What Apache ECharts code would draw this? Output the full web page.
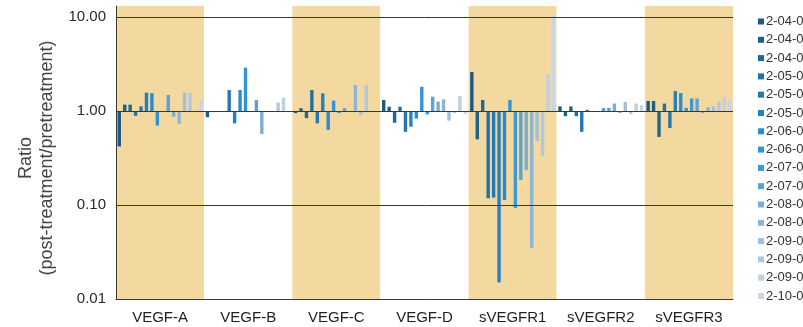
<!DOCTYPE html>
<html>
<head>
<meta charset="utf-8">
<script src="https://cdn.jsdelivr.net/npm/echarts@6/dist/echarts.min.js"></script>
<style>
html,body{margin:0;padding:0;background:#fff;}
#chart{width:803px;height:327px;}
</style>
</head>
<body>
<div id="chart"></div>
<script>
// Categories (biomarkers)
const categories = ['VEGF-A', 'VEGF-B', 'VEGF-C', 'VEGF-D', 'sVEGFR1', 'sVEGFR2', 'sVEGFR3'];

// Patient IDs (legend)
const patients = ['2-04-001', '2-04-002', '2-04-003', '2-05-001', '2-05-002', '2-05-003',
  '2-06-001', '2-06-002', '2-07-001', '2-07-002', '2-08-001', '2-08-002',
  '2-09-001', '2-09-002', '2-09-003', '2-10-001'];

// Ratio (post/pre) per biomarker, one value per patient (null = no bar)
const vegfA   = [0.42, 1.17, 1.17, 0.89, 1.12, 1.57, 1.55, 0.70, null, 1.48, 0.87, 0.73, 1.58, 1.55, null, 1.31];
const vegfB   = [0.86, null, null, null, 1.67, 0.74, 1.67, 2.89, null, 1.31, 0.57, null, null, 1.23, 1.39, null];
const vegfC   = [0.95, 1.07, 0.84, 1.67, 0.74, 1.54, 0.63, 1.29, 0.95, 1.07, null, 1.89, 0.91, 1.89, 0.97, null];
const vegfD   = [1.31, 1.11, 0.75, 1.11, 0.60, 0.68, 0.83, 1.81, 0.92, 1.42, 1.26, 1.33, 0.79, 0.95, 1.44, 0.93];
const sVegfr1 = [2.6, 0.50, 1.31, 0.118, 0.12, 0.015, 0.113, 1.31, 0.093, 0.185, 0.235, 0.035, 0.48, 0.33, 2.5, 10.5];
const sVegfr2 = [1.12, 0.88, 1.12, 0.88, 0.60, 1.03, null, null, 1.07, 1.08, 1.2, 0.95, 1.25, 0.93, 1.2, 1.15];
const sVegfr3 = [1.28, 1.28, 0.53, 1.2, 0.66, 1.63, 1.55, 1.08, 1.36, 1.36, 0.95, 1.1, 1.12, 1.25, 1.4, 1.32];

const yTicks = [0.01, 0.1, 1, 10];

const colors = ['#1c5a80', '#1e6189', '#206792', '#2270a5', '#2478b0', '#2580bd',
  '#2a8ccc', '#2f95d5', '#3a9ad6', '#5aa3d2', '#78aed2', '#8cb6d6',
  '#a0c0dc', '#b1c9e0', '#bfd0e4', '#c9d5e6'];

const byCategory = [vegfA, vegfB, vegfC, vegfD, sVegfr1, sVegfr2, sVegfr3];
const FONT = '"Liberation Sans", Arial, Helvetica, sans-serif';

const series = patients.map((p, i) => ({
  name: p,
  type: 'bar',
  xAxisIndex: 1,
  yAxisIndex: 1,
  barWidth: 3.4,
  barGap: '60%',
  clip: false,
  itemStyle: { color: colors[i] },
  data: byCategory.map(arr => arr[i])
}));

const chart = echarts.init(document.getElementById('chart'), null, { renderer: 'canvas' });
chart.setOption({
  animation: false,
  backgroundColor: '#ffffff',
  textStyle: { fontFamily: FONT },
  grid: [
    { left: 116, right: 70, top: 6, bottom: 28 },
    { left: 116, right: 70, top: 17, bottom: 28 }
  ],
  legend: {
    orient: 'vertical',
    left: 753,
    top: 10,
    itemWidth: 6,
    itemHeight: 6,
    itemGap: 5.3,
    icon: 'rect',
    textStyle: { fontSize: 13, color: '#333', fontFamily: FONT, lineHeight: 13, padding: [0, 0, 0, -3] },
    data: patients
  },
  xAxis: [
    {
      type: 'category', gridIndex: 0, data: categories, z: 0,
      axisLine: { show: false }, axisTick: { show: false }, axisLabel: { show: false },
      splitLine: { show: false },
      splitArea: { show: true, areaStyle: { color: ['#f3d9a0', '#ffffff'] } }
    },
    {
      type: 'category', gridIndex: 1, data: categories, z: 3,
      axisLine: { show: true, lineStyle: { color: '#3a3a30', width: 1 } },
      axisTick: { show: false },
      axisLabel: { fontSize: 15, color: '#1e1e1e', margin: 11, fontFamily: FONT },
      splitLine: { show: false }
    }
  ],
  yAxis: [
    {
      type: 'value', gridIndex: 0, min: 0, max: 1, z: 3,
      axisLine: { show: true, lineStyle: { color: '#3a3a30', width: 1 } },
      axisTick: { show: false }, axisLabel: { show: false }, splitLine: { show: false }
    },
    {
      type: 'log', gridIndex: 1, logBase: 10, min: yTicks[0], max: yTicks[yTicks.length - 1], z: 3,
      name: 'Ratio\n(post-treatment/pretreatment)',
      nameLocation: 'middle',
      nameGap: 57,
      nameTextStyle: { fontSize: 18, lineHeight: 21, color: '#444', fontFamily: FONT },
      axisLine: { show: false },
      axisTick: { show: false },
      axisLabel: { fontSize: 15, color: '#2a2a2a', margin: 10, fontFamily: FONT,
        formatter: v => Number(v).toFixed(2) },
      splitLine: { show: true, lineStyle: { color: '#3a3a30', width: 1 } }
    }
  ],
  series: series
});
</script>
</body>
</html>
